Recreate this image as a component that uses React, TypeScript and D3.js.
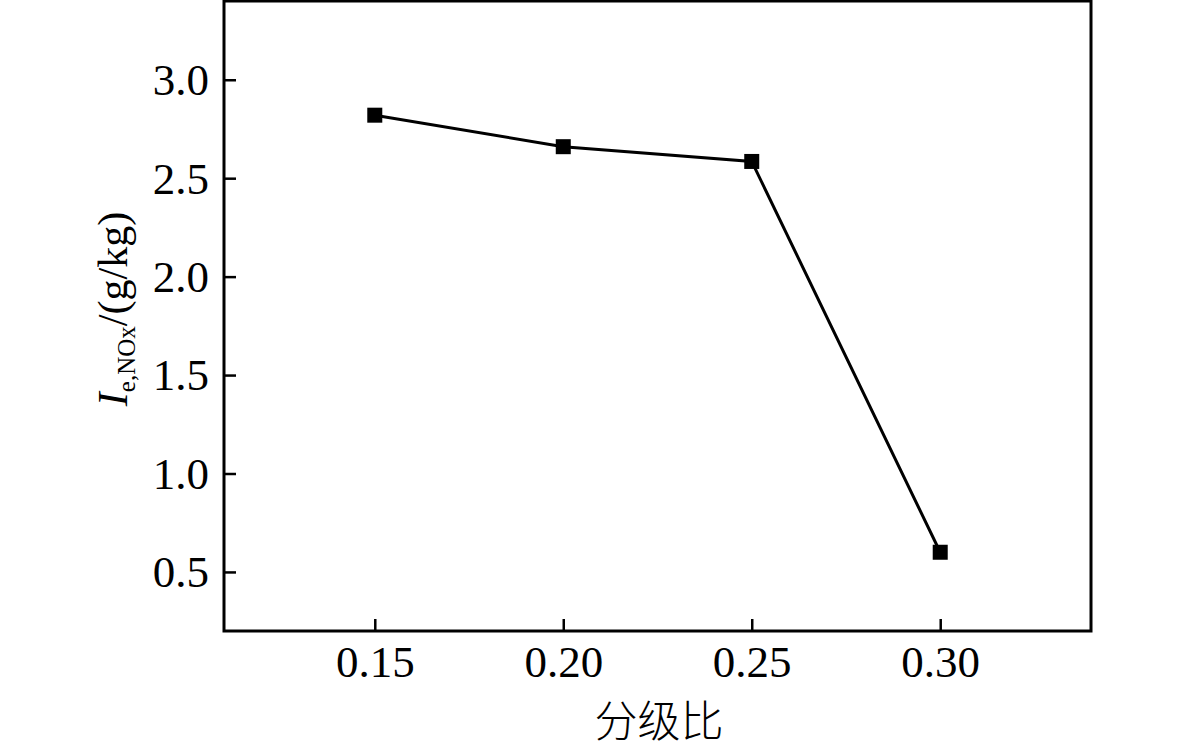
import { useEffect, useRef } from 'react';
import * as d3 from 'd3';

// 分级比 vs I_e,NOx
const ratios = [0.15, 0.20, 0.25, 0.30];
const emission = [2.82, 2.66, 2.585, 0.60];
const xTicks = [0.15, 0.20, 0.25, 0.30];
const yTicks = [0.5, 1.0, 1.5, 2.0, 2.5, 3.0];

export default function App() {
  const ref = useRef<SVGSVGElement>(null);

  useEffect(() => {
    const svg = d3.select(ref.current);
    svg.selectAll('*').remove();

    const W = 1181, H = 750;
    const margin = { top: 1, right: 90, bottom: 119, left: 224 };
    const w = W - margin.left - margin.right;
    const h = H - margin.top - margin.bottom;
    const font = '"Liberation Serif", "Times New Roman", serif';

    const x = d3.scaleLinear().domain([0.11, 0.34]).range([0, w]);
    const y = d3.scaleLinear().domain([0.2, 3.4]).range([h, 0]);

    const g = svg.append('g').attr('transform', `translate(${margin.left},${margin.top})`);

    // y axis, ticks pointing inward
    g.append('g')
      .call(d3.axisLeft(y).tickValues(yTicks).tickSize(-12).tickPadding(15).tickFormat(d3.format('.1f')))
      .call(gg => gg.select('.domain').remove())
      .call(gg => gg.selectAll('line').attr('stroke', '#000').attr('stroke-width', 2.5))
      .call(gg => gg.selectAll('text').attr('fill', '#000').attr('font-family', font).attr('font-size', 45).attr('dy', '0.33em'));

    // x axis
    g.append('g').attr('transform', `translate(0,${h})`)
      .call(d3.axisBottom(x).tickValues(xTicks).tickSize(-12).tickPadding(14).tickFormat(d3.format('.2f')))
      .call(gg => gg.select('.domain').remove())
      .call(gg => gg.selectAll('line').attr('stroke', '#000').attr('stroke-width', 2.5))
      .call(gg => gg.selectAll('text').attr('fill', '#000').attr('font-family', font).attr('font-size', 45).attr('dy', '0.72em'));

    // frame
    g.append('rect').attr('x', 0).attr('y', 0).attr('width', w).attr('height', h)
      .attr('fill', 'none').attr('stroke', '#000').attr('stroke-width', 3);

    const pts = ratios.map((r, i) => ({ r, v: emission[i] }));
    const line = d3.line<{ r: number; v: number }>().x(d => x(d.r)).y(d => y(d.v));
    g.append('path').datum(pts).attr('d', line)
      .attr('fill', 'none').attr('stroke', '#000').attr('stroke-width', 3);

    const s = 15;
    g.selectAll('.pt').data(pts).enter().append('rect')
      .attr('x', d => x(d.r) - s / 2).attr('y', d => y(d.v) - s / 2)
      .attr('width', s).attr('height', s).attr('fill', '#000');

    // x title
    svg.append('text')
      .attr('x', 659).attr('y', 737)
      .attr('text-anchor', 'middle')
      .attr('font-family', '"Noto Sans CJK SC", sans-serif').attr('font-weight', 300)
      .attr('font-size', 43).attr('fill', '#000')
      .text('分级比');

    // y title
    const yt = svg.append('text')
      .attr('transform', `translate(127,${309}) rotate(-90)`)
      .attr('text-anchor', 'middle')
      .attr('font-family', font).attr('font-size', 42).attr('fill', '#000');
    yt.append('tspan').attr('font-style', 'italic').text('I');
    yt.append('tspan').attr('font-size', 25).attr('dy', 8).text('e,NOx');
    yt.append('tspan').attr('dy', -8).text('/(g/kg)');
  }, []);

  return (
    <svg ref={ref} width={1181} height={750}
      style={{ position: 'absolute', left: 0, top: 0, background: '#fff' }} />
  );
}
